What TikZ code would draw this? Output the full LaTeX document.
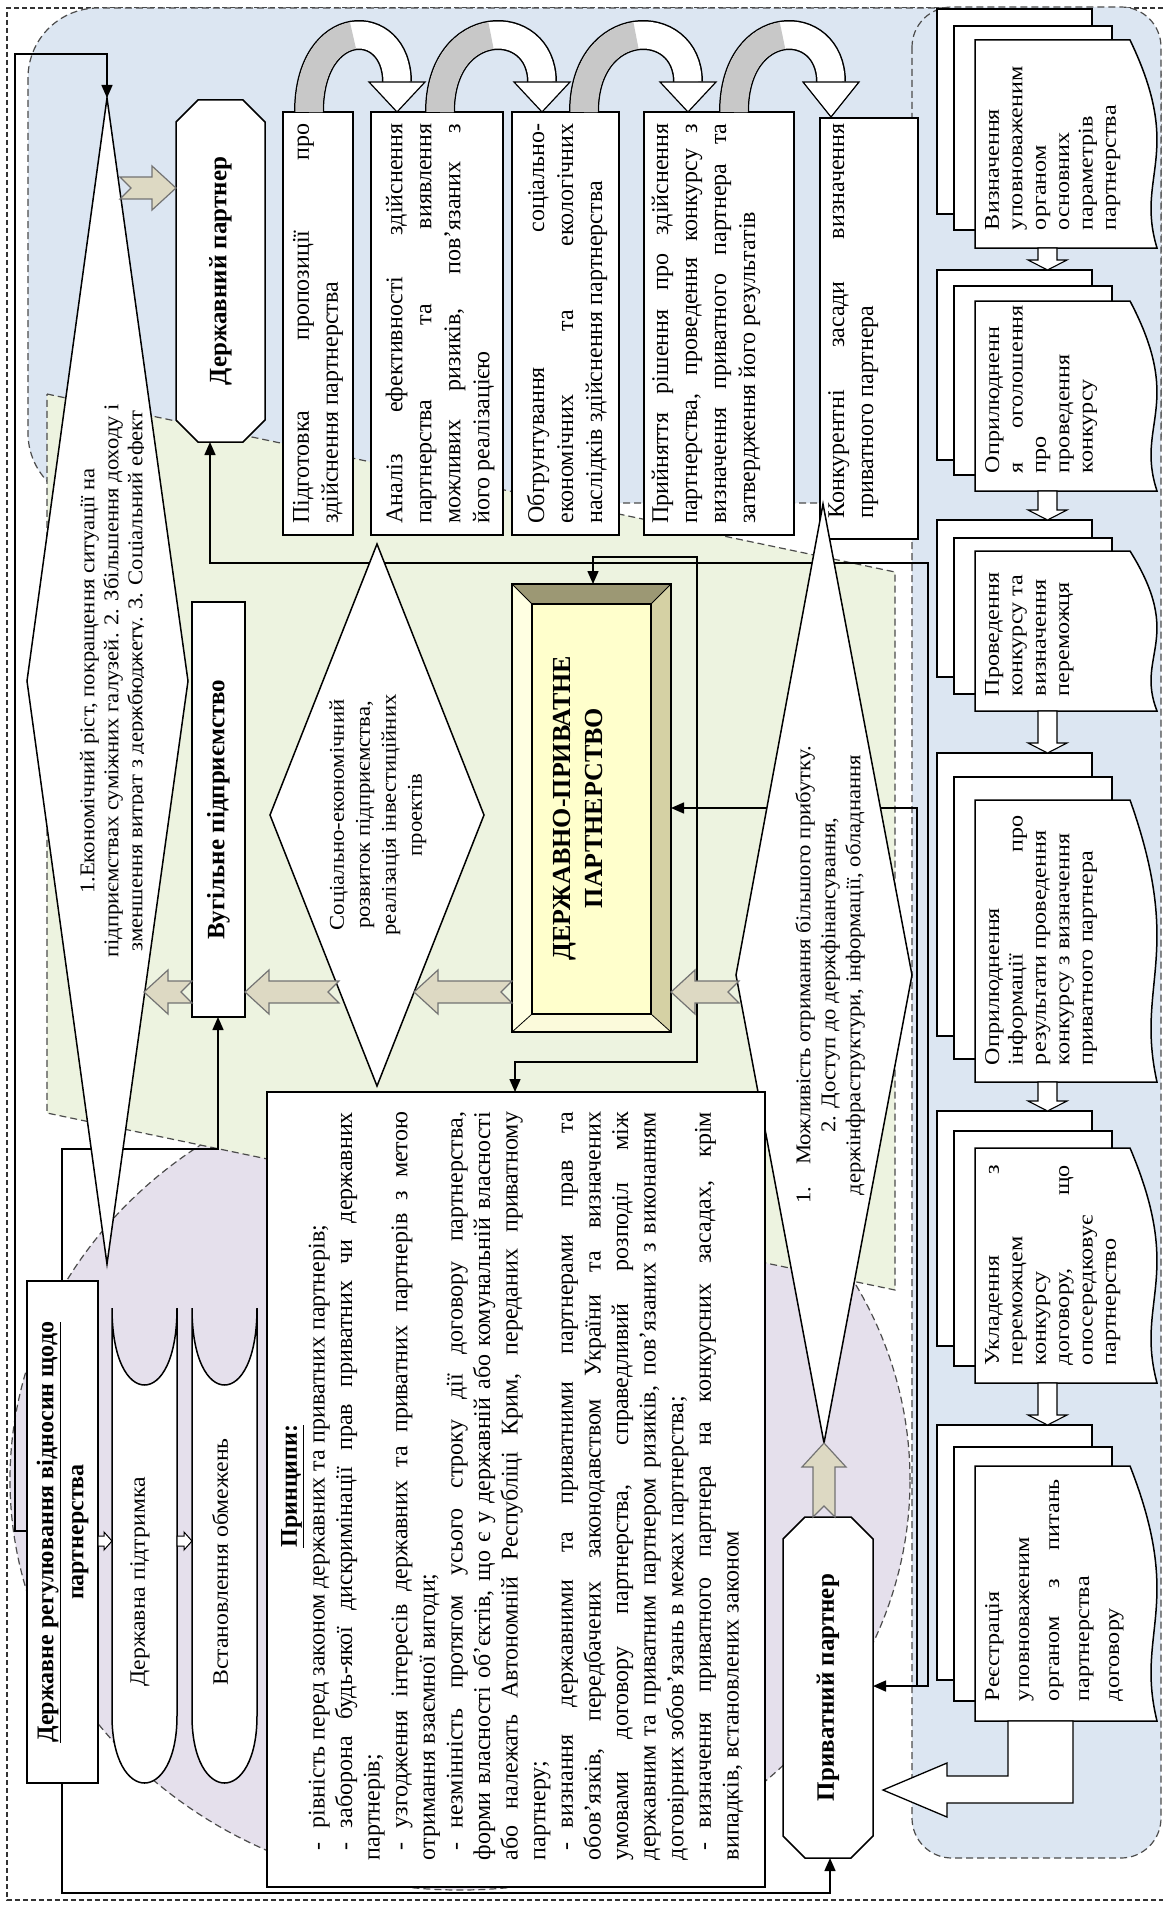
\documentclass[tikz,border=0pt]{standalone}
\usepackage{fontspec}
\setmainfont{Liberation Serif}
\newfontfamily\docff{Liberation Serif}[FakeStretch=1.15]
\newfontfamily\diaff{Liberation Serif}[FakeStretch=1.08]
\usetikzlibrary{arrows.meta}
\definecolor{bluef}{HTML}{DCE6F2}
\definecolor{greenf}{HTML}{EDF3E0}
\definecolor{purplef}{HTML}{E5E0EC}
\definecolor{beigef}{HTML}{DDD9C3}
\definecolor{grayarc}{HTML}{C8C8C8}
\definecolor{dppin}{HTML}{FFFFCC}
\definecolor{dpptop}{HTML}{9C9874}
\definecolor{dppright}{HTML}{D5D1A4}
\definecolor{dppleft}{HTML}{FFFFE2}
\definecolor{dppbot}{HTML}{FBFADB}
\tikzset{
  region/.style={draw=black!70, line width=1.2pt, dash pattern=on 7pt off 4pt},
  outerdash/.style={draw=black!80, line width=1.2pt, dash pattern=on 5pt off 3pt},
  boxline/.style={draw=black, line width=1.5pt},
  wire/.style={draw=black, line width=1.5pt},
  barrow/.style={fill=beigef, draw=black!55, line width=1.2pt},
  boxtext/.style={rotate=90, inner sep=0pt, align=justify, font={\fontsize{24}{29}\selectfont\parindent0pt}},
  doctext/.style={rotate=90, inner sep=0pt, align=justify, anchor=north, font={\docff\fontsize{21}{23.4}\selectfont\parindent0pt}},
  diatext/.style={rotate=90, inner sep=0pt, align=center, font={\diaff\fontsize{21}{24}\selectfont}},
  titletext/.style={rotate=90, inner sep=0pt, align=center, font={\bfseries\fontsize{25}{30}\selectfont}},
  prtext/.style={rotate=90, inner sep=0pt, align=justify, anchor=north, font={\fontsize{24}{27.6}\selectfont\parindent0pt}}
}
\newcommand\DocStack[6]{%
  \draw[boxline, fill=white] (937,-#1) rectangle (1092,-#2);
  \draw[boxline, fill=white] (954,-#3) rectangle (1112,-#4);
  \draw[boxline, fill=white] (975,-#5) -- (1130,-#5) .. controls (1185,{-#5-0.55*(#6-#5)}) and (1135,{-#5-0.65*(#6-#5)}) .. (1157,-#6) -- (975,-#6) -- cycle;}
\newcommand\DocArrow[2]{%
  \draw[line width=1.1pt, fill=white] (1038,-#1) -- (1057,-#1) -- (1057,{-#2+10}) -- (1067,{-#2+10}) -- (1047.5,-#2) -- (1028,{-#2+10}) -- (1038,{-#2+10}) -- cycle;}
\newcommand\UTurn[3]{%
  \draw[line width=30pt, black] (#1,-112) .. controls (#1,-15) and (#2,-15) .. (#2,-82);
  \draw[line width=27pt, white] (#1,-112) .. controls (#1,-15) and (#2,-15) .. (#2,-82);
  \draw[line width=27pt, grayarc] (#1,-112) .. controls (#1,-63.5) and ({(3*#1+#2)/4},-39.25) .. ({(#1+#2)/2},-35.5);
  \filldraw[fill=white, draw=black, line width=1.2pt] ({#2-28},-82) -- ({#2+28},-82) -- (#2,-#3) -- cycle;}
\newcommand\BArrow[4]{%
  \begin{scope}[shift={(#1,#2)},rotate=#3]
  \filldraw[barrow] (0,-11) -- ({#4-24},-11) -- ({#4-24},-22) -- (#4,0) -- ({#4-24},22) -- ({#4-24},11) -- (0,11) -- (11,0) -- cycle;
  \end{scope}}
\newcommand\Scroll[2]{%
  \draw[boxline, fill=white] (#1,-1308) .. controls (#1,-1360) and ({(3*#1+#2)/4},-1385) .. ({(#1+#2)/2},-1385) .. controls ({(#1+3*#2)/4},-1385) and (#2,-1360) .. (#2,-1308) -- (#2,-1716) .. controls (#2,-1760) and ({(#1+3*#2)/4},-1783) .. ({(#1+#2)/2},-1783) .. controls ({(3*#1+#2)/4},-1783) and (#1,-1760) .. (#1,-1716) -- cycle;}
\begin{document}
\begin{tikzpicture}[x=1pt,y=1pt,>={Triangle[length=13pt,width=11pt]}]
\fill[white] (0,0) rectangle (1163,-1905);
\useasboundingbox (0,0) rectangle (1163,-1905);

% ---------- background regions
\draw[outerdash] (1163,-8) -- (7,-8) -- (7,-1900) -- (1163,-1900);
\draw[region, fill=bluef, rounded corners=70pt] (28,-8) rectangle (1161,-503);
\draw[region, fill=bluef, rounded corners=40pt] (912,-7) rectangle (1161,-1858);
\draw[region, fill=purplef] (460,-1480) ellipse [x radius=450, y radius=410];
\draw[region, fill=greenf] (47,-394) -- (895,-572) -- (895,-1290) -- (47,-1113) -- cycle;

% ---------- connection points
\coordinate (d1-n) at (107,-98);
\coordinate (dr-w) at (27,-1531);
\coordinate (vug-s) at (218,-1017);
\coordinate (pp-s) at (830,-1858);
\coordinate (pp-e) at (873,-1686);
\coordinate (dp-s) at (210,-442);
\coordinate (dpp-e) at (671,-808);
\coordinate (dpp-n) at (593,-584);
\coordinate (pr-n) at (515,-1092);
\coordinate (j1) at (917,-1686);

% ---------- connectors
\draw[wire,->] (dr-w) -- (15,-1531) -- (15,-54) -- (107,-54) -- (d1-n);
\draw[wire,<->] (vug-s) -- (218,-1149) -- (62,-1149) -- (62,-1893) -- (830,-1893) -- (pp-s);
\draw[wire,<->] (dp-s) -- (210,-563) -- (928,-563) -- (928,-1686) -- (pp-e);
\draw[wire,->] (j1) -- (917,-808) -- (dpp-e);
\draw[wire,<->] (dpp-n) -- (593,-557) -- (697,-557) -- (697,-1062) -- (515,-1062) -- (pr-n);

% ---------- top process boxes
\draw[boxline, fill=white] (283,-112) rectangle (353,-535);
\node[boxtext, text width=400pt] (b1) at (318,-323.5) {Підготовка пропозиції про\linebreak здійснення партнерства};
\draw[boxline, fill=white] (371,-112) rectangle (503,-535);
\node[boxtext, text width=400pt] (b2) at (440,-323.5) {Аналіз ефективності здійснення\linebreak партнерства та виявлення\linebreak можливих ризиків, пов’язаних з\linebreak його реалізацією};
\draw[boxline, fill=white] (512,-112) rectangle (619,-535);
\node[boxtext, text width=400pt] (b3) at (567,-323.5) {Обгрунтування соціально-\linebreak економічних та екологічних\linebreak наслідків здійснення партнерства};
\draw[boxline, fill=white] (644,-112) rectangle (794,-535);
\node[boxtext, text width=400pt] (b4) at (706,-323.5) {Прийняття рішення про здійснення\linebreak партнерства, проведення конкурсу з\linebreak визначення приватного партнера та\linebreak затвердження його результатів};
\draw[boxline, fill=white] (820,-118) rectangle (918,-539);
\node[boxtext, anchor=north, text width=395pt] (b5) at (828,-321) {Конкурентні засади визначення\linebreak приватного партнера};

% curved arrows
\UTurn{309}{397}{112}
\UTurn{440}{542}{112}
\UTurn{584}{688}{112}
\UTurn{734}{831}{117}

% ---------- right column documents
\DocStack{9}{214}{26}{230}{40}{248}
\DocStack{270}{460}{286}{475}{301}{491}
\DocStack{520}{677}{538}{694}{551}{711}
\DocStack{753}{1036}{777}{1059}{800}{1082}
\DocStack{1111}{1346}{1131}{1366}{1148}{1383}
\DocStack{1425}{1680}{1447}{1701}{1466}{1721}
\DocArrow{248}{270}
\DocArrow{491}{520}
\DocArrow{711}{753}
\DocArrow{1082}{1111}
\DocArrow{1383}{1425}
\node[doctext, text width=175pt] (t1) at (985,-142.5) {Визначення\newline уповноваженим\newline органом\newline основних\newline параметрів\newline партнерства};
\node[doctext, text width=168pt] (t2) at (985,-389) {Оприлюдненн\newline я оголошення\linebreak про\newline проведення\newline конкурсу};
\node[doctext, text width=140pt] (t3) at (985,-626) {Проведення\newline конкурсу та\newline визначення\newline переможця};
\node[doctext, text width=250pt] (t4) at (985,-940) {Оприлюднення\newline інформації про\linebreak результати проведення\newline конкурсу з визначення\newline приватного партнера};
\node[doctext, text width=200pt] (t5) at (985,-1265) {Укладення з\linebreak переможцем\newline конкурсу\newline договору, що\linebreak опосередковує\newline партнерство};
\node[doctext, text width=222pt, font={\docff\fontsize{21}{30}\selectfont\parindent0pt}] (t6) at (985,-1590) {Реєстрація\newline уповноваженим\newline органом з питань\linebreak партнерства\newline договору};
% big bent arrow to private partner
\draw[line width=1.3pt, fill=white] (1008,-1721) -- (1008,-1776) -- (947,-1776) -- (947,-1763) -- (883,-1790) -- (947,-1817) -- (947,-1803) -- (1073,-1803) -- (1073,-1721) -- cycle;

% ---------- state partner / private partner
\draw[boxline, fill=white] (198,-100) -- (243,-100) -- (265,-122) -- (265,-420) -- (243,-442) -- (198,-442) -- (176,-420) -- (176,-122) -- cycle;
\node[titletext] (dp) at (220.5,-271) {Державний партнер};
\draw[boxline, fill=white] (805,-1517) -- (851,-1517) -- (873,-1539) -- (873,-1836) -- (851,-1858) -- (805,-1858) -- (783,-1836) -- (783,-1539) -- cycle;
\node[titletext] (pp) at (828,-1687.5) {Приватний партнер};

% ---------- coal enterprise
\draw[boxline, fill=white] (192,-602) rectangle (245,-1017);
\node[titletext] (vug) at (218.5,-809.5) {Вугільне підприємство};

% ---------- PPP bevel box
\fill[dppleft] (512,-584) -- (532,-604) -- (532,-1014) -- (512,-1032) -- cycle;
\fill[dpptop] (512,-584) -- (671,-584) -- (651,-604) -- (532,-604) -- cycle;
\fill[dppright] (671,-584) -- (671,-1032) -- (651,-1014) -- (651,-604) -- cycle;
\fill[dppbot] (512,-1032) -- (671,-1032) -- (651,-1014) -- (532,-1014) -- cycle;
\filldraw[fill=dppin, draw=black, line width=1.2pt] (532,-604) rectangle (651,-1014);
\draw[line width=0.8pt] (512,-584) -- (532,-604) (671,-584) -- (651,-604) (671,-1032) -- (651,-1014) (512,-1032) -- (532,-1014);
\draw[boxline] (512,-584) rectangle (671,-1032);
\node[rotate=90, align=center, inner sep=0pt, font={\bfseries\fontsize{26}{32}\selectfont}] (dppt) at (578,-808) {ДЕРЖАВНО-ПРИВАТНЕ\\ПАРТНЕРСТВО};

% ---------- diamonds
\draw[boxline, fill=white] (107,-98) -- (188,-681) -- (107,-1264) -- (27,-681) -- cycle;
\begin{scope}
\clip (20,-60) rectangle (143,-1300);
\node[diatext] (d1t) at (113.5,-681) {1.Економічний ріст, покращення ситуації на\\ підприємствах суміжних галузей. 2. Збільшення доходу і\\ зменшення витрат з держбюджету. 3. Соціальний ефект};
\end{scope}
\draw[boxline, fill=white] (377,-544) -- (484,-815) -- (377,-1086) -- (270,-815) -- cycle;
\node[diatext, font={\diaff\fontsize{21}{26}\selectfont}] (d2t) at (378,-815) {Соціально-економічний\\ розвиток підприємства,\\ реалізація інвестиційних\\ проектів};
\draw[boxline, fill=white] (823,-504) -- (912,-975) -- (824,-1443) -- (736,-975) -- cycle;
\node[diatext, font={\diaff\fontsize{21}{25}\selectfont}] (d3t) at (830,-975) {1.\hspace{22pt}Можливість отримання більшого прибутку.\\ 2. Доступ до держфінансування,\\ держінфраструктури, інформації, обладнання};

% ---------- beige block arrows
\BArrow{120}{-188}{0}{56}
\BArrow{192}{-992}{180}{48}
\BArrow{339}{-992}{180}{94}
\BArrow{512}{-992}{180}{98}
\BArrow{739}{-992}{180}{68}
\BArrow{824}{-1517}{90}{74}

% ---------- state regulation
\draw[boxline, fill=white] (27,-1281) rectangle (98,-1783);
\node[titletext, font={\bfseries\fontsize{24}{30}\selectfont}] (dr) at (62.5,-1532) {\underline{Державне регулювання відносин щодо}\\ партнерства};
\Scroll{112}{177}
\Scroll{192}{257}
\node[diatext, font={\diaff\fontsize{22}{26}\selectfont}] (sup) at (140,-1582) {Державна підтримка};
\node[diatext, font={\diaff\fontsize{22}{26}\selectfont}] (lim) at (220,-1562) {Встановлення обмежень};
\draw[line width=1pt, fill=white] (98,-1536) -- (104,-1536) -- (104,-1532) -- (112,-1541) -- (104,-1550) -- (104,-1546) -- (98,-1546) -- cycle;
\draw[line width=1pt, fill=white] (177,-1536) -- (184,-1536) -- (184,-1532) -- (192,-1541) -- (184,-1550) -- (184,-1546) -- (177,-1546) -- cycle;

% ---------- principles
\draw[boxline, fill=white] (267,-1092) rectangle (765,-1887);
\node[prtext, text width=748pt] (pr) at (281,-1486) {{\centering\bfseries\underline{Принципи:}\par}
\hspace*{10pt}-\hspace{14pt}рівність перед законом державних та приватних партнерів;\newline
\hspace*{10pt}-\hspace{14pt}заборона будь-якої дискримінації прав приватних чи державних\linebreak
партнерів;\newline
\hspace*{10pt}-\hspace{14pt}узгодження інтересів державних та приватних партнерів з метою\linebreak
отримання взаємної вигоди;\newline
\hspace*{10pt}-\hspace{14pt}незмінність протягом усього строку дії договору партнерства,\linebreak
форми власності об’єктів, що є у державній або комунальній власності\linebreak
або належать Автономній Республіці Крим, переданих приватному\linebreak
партнеру;\newline
\hspace*{10pt}-\hspace{14pt}визнання державними та приватними партнерами прав та\linebreak
обов’язків, передбачених законодавством України та визначених\linebreak
умовами договору партнерства, справедливий розподіл між\linebreak
державним та приватним партнером ризиків, пов’язаних з виконанням\linebreak
договірних зобов’язань в межах партнерства;\newline
\hspace*{10pt}-\hspace{14pt}визначення приватного партнера на конкурсних засадах, крім\linebreak
випадків, встановлених законом};
\end{tikzpicture}
\end{document}
